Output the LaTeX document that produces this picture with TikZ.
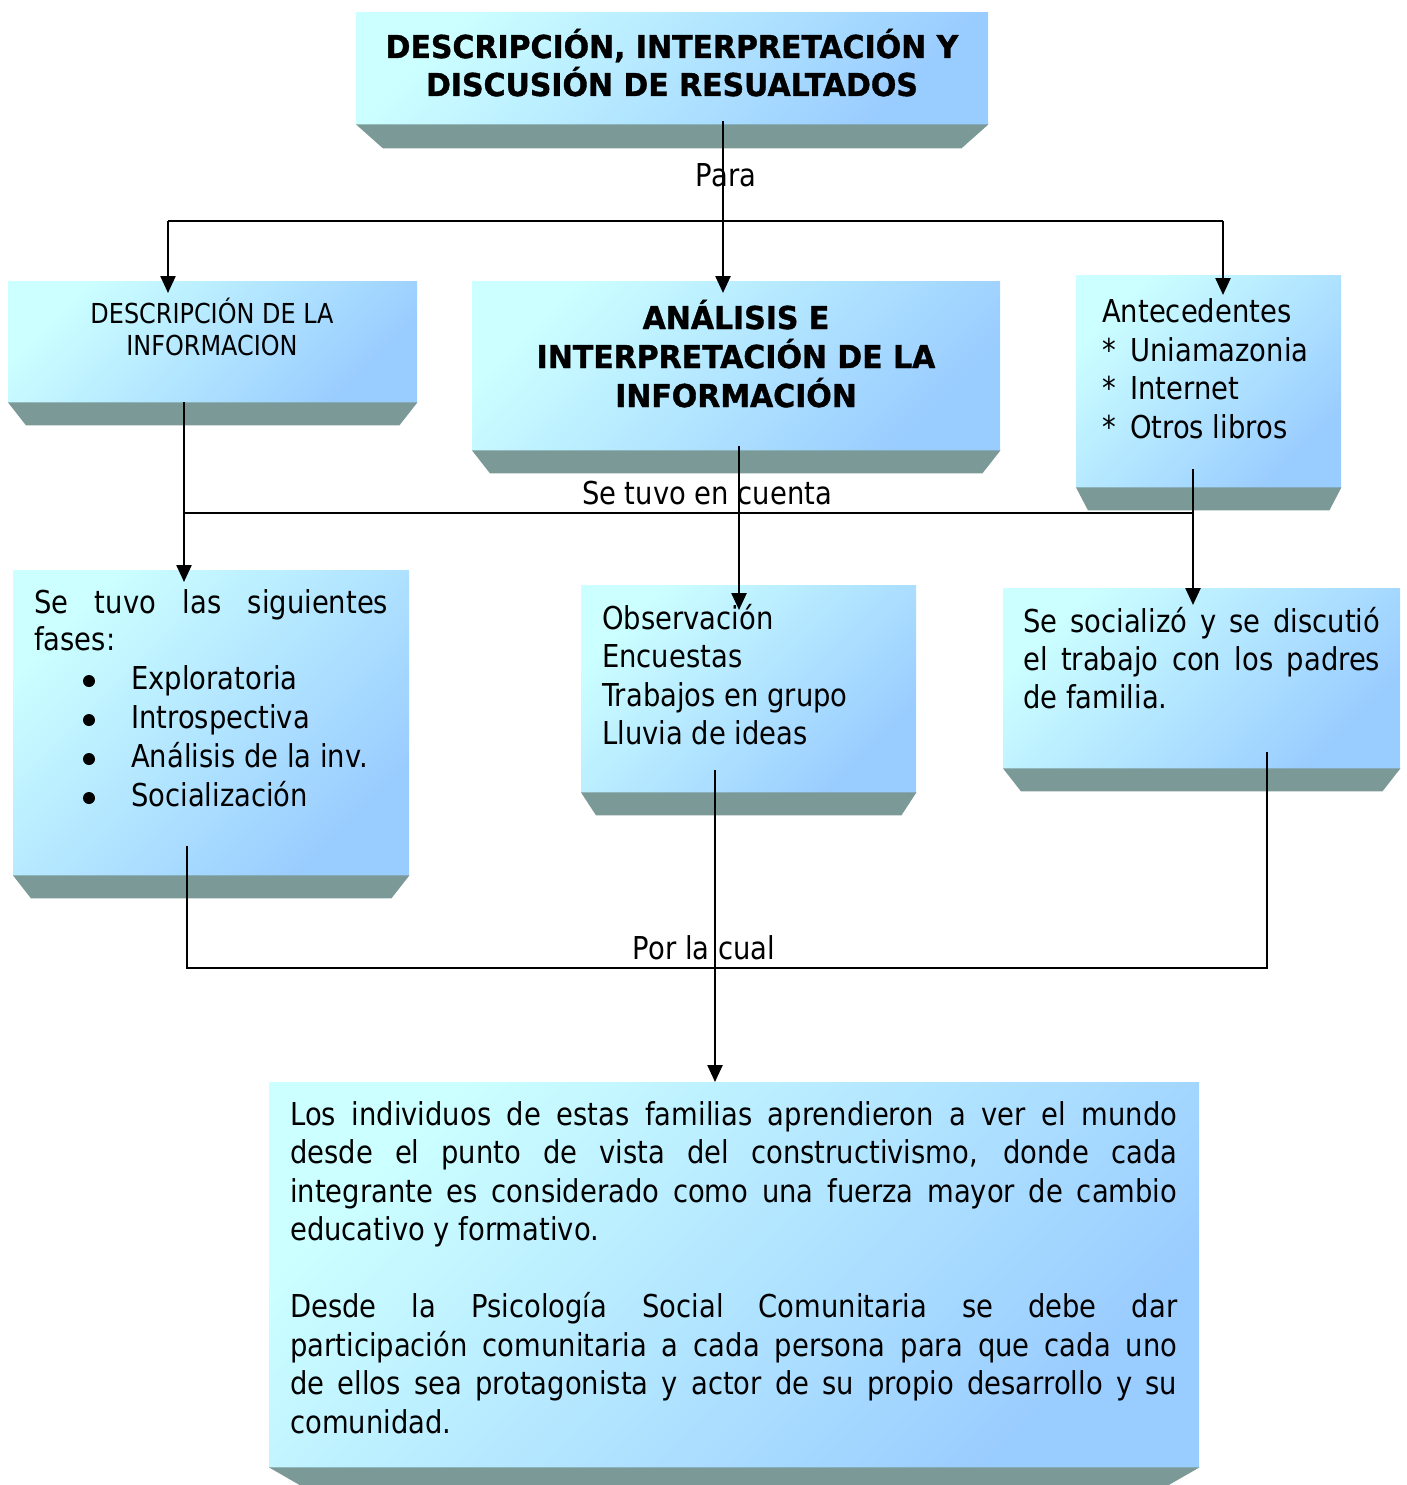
\documentclass[tikz,border=0pt]{standalone}
\usepackage{fontspec}
\setmainfont{DejaVu Sans}[FakeStretch=0.87]
\newfontfamily\boldfam{DejaVu Sans}[FakeStretch=0.95, FakeBold=1.2]
\usetikzlibrary{arrows.meta}
\definecolor{cTop}{RGB}{204,255,255}
\definecolor{cBot}{RGB}{153,204,255}
\definecolor{cShelf}{RGB}{122,153,151}
\newcommand\mainsz{\fontsize{31.5}{38.5}\selectfont}
\newcommand\smallsz{\fontsize{27.5}{32}\selectfont}
\newcommand\shelfof[3]{\fill[shelf] (#1.south west) -- (#1.south east) -- ([xshift=-#2pt,yshift=-#3pt]#1.south east) -- ([xshift=#2pt,yshift=-#3pt]#1.south west) -- cycle;}
\begin{document}
\begin{tikzpicture}[x=1pt,y=-1pt,
  face/.style={rectangle, inner sep=0pt, draw=none, top color=cTop, bottom color=cBot, shading angle=45, anchor=north west},
  shelf/.style={fill=cShelf, draw=none},
  conn/.style={line width=2.4pt, draw=black},
  arr/.style={conn, -{Triangle[length=17pt,width=15pt]}},
  txt/.style={inner sep=0pt, anchor=base west, font=\mainsz},
  ctr/.style={inner sep=0pt, anchor=base, font=\mainsz},
  ttl/.style={inner sep=0pt, anchor=base, font=\boldfam\bfseries\mainsz},
  sml/.style={inner sep=0pt, anchor=base, font=\smallsz},
  bul/.style={circle, fill=black, inner sep=0pt, minimum size=12pt}]
\useasboundingbox (0,0) rectangle (1407,1485);
\clip (0,0) rectangle (1407,1485);

% ---------- boxes ----------
\node[face, minimum width=632pt, minimum height=112pt] (top) at (356,12) {};
\shelfof{top}{27}{24}
\node[face, minimum width=409pt, minimum height=121pt] (b1) at (8,281) {};
\shelfof{b1}{18}{23}
\node[face, minimum width=528pt, minimum height=169pt] (b2) at (472,281) {};
\shelfof{b2}{18}{23}
\node[face, minimum width=265pt, minimum height=212pt] (b3) at (1076,275) {};
\shelfof{b3}{12}{23}
\node[face, minimum width=396pt, minimum height=305pt] (b4) at (13,570) {};
\shelfof{b4}{18}{23}
\node[face, minimum width=335pt, minimum height=207pt] (b5) at (581,585) {};
\shelfof{b5}{15}{23}
\node[face, minimum width=397pt, minimum height=180pt] (b6) at (1003,588) {};
\shelfof{b6}{18}{23}
\node[face, minimum width=930pt, minimum height=385pt] (b7) at (269,1082) {};
\shelfof{b7}{40}{23}

% ---------- texts ----------
\node[ttl] (t0a) at (672,58) {DESCRIPCIÓN, INTERPRETACIÓN Y};
\node[ttl] (t0b) at (672,96) {DISCUSIÓN DE RESUALTADOS};

\node[sml] (t1a) at (212,323) {DESCRIPCIÓN DE LA};
\node[sml] (t1b) at (212,355) {INFORMACION};

\node[ttl] (t2a) at (736,329) {ANÁLISIS E};
\node[ttl] (t2b) at (736,368) {INTERPRETACIÓN DE LA};
\node[ttl] (t2c) at (736,407) {INFORMACIÓN};

\node[txt] (t3a) at (1102,322) {Antecedentes};
\node[txt] (t3b) at (1102,361) {\makebox[28pt][l]{*}Uniamazonia};
\node[txt] (t3c) at (1102,399) {\makebox[28pt][l]{*}Internet};
\node[txt] (t3d) at (1102,438) {\makebox[28pt][l]{*}Otros libros};

\node[txt] (t4a) at (34,613) {\makebox[354pt][s]{Se tuvo las siguientes}};
\node[txt] (t4b) at (34,650) {fases:};
\node[bul] (u1) at (89,681) {};
\node[bul] (u2) at (89,720) {};
\node[bul] (u3) at (89,759) {};
\node[bul] (u4) at (89,798) {};
\node[txt] (t4c) at (131,689) {Exploratoria};
\node[txt] (t4d) at (131,728) {Introspectiva};
\node[txt] (t4e) at (131,767) {Análisis de la inv.};
\node[txt] (t4f) at (131,806) {Socialización};

\node[txt] (t5a) at (602,629) {Observación};
\node[txt] (t5b) at (602,667) {Encuestas};
\node[txt] (t5c) at (602,706) {Trabajos en grupo};
\node[txt] (t5d) at (602,744) {Lluvia de ideas};

\node[txt] (t6a) at (1023,632) {\makebox[357pt][s]{Se socializó y se discutió}};
\node[txt] (t6b) at (1023,670) {\makebox[357pt][s]{el trabajo con los padres}};
\node[txt] (t6c) at (1023,708) {de familia.};

\node[txt] (t7a) at (290,1125) {\makebox[887pt][s]{Los individuos de estas familias aprendieron a ver el mundo}};
\node[txt] (t7b) at (290,1163.5) {\makebox[887pt][s]{desde el punto de vista del constructivismo, donde cada}};
\node[txt] (t7c) at (290,1202) {\makebox[887pt][s]{integrante es considerado como una fuerza mayor de cambio}};
\node[txt] (t7d) at (290,1240.5) {educativo y formativo.};
\node[txt] (t7e) at (290,1317.5) {\makebox[887pt][s]{Desde la Psicología Social Comunitaria se debe dar}};
\node[txt] (t7f) at (290,1356) {\makebox[887pt][s]{participación comunitaria a cada persona para que cada uno}};
\node[txt] (t7g) at (290,1394.5) {\makebox[887pt][s]{de ellos sea protagonista y actor de su propio desarrollo y su}};
\node[txt] (t7h) at (290,1433) {comunidad.};

% ---------- labels ----------
\node[ctr] (l1) at (726,186) {Para};
\node[ctr] (l2) at (707,504) {Se tuvo en cuenta};
\node[ctr] (l3) at (704,959) {Por la cual};

% ---------- connectors ----------
\coordinate (c0) at (723,121);
\coordinate (c0e) at (723,293);
\draw[arr] (c0) -- (c0e);
\coordinate (c1l) at (168,221);
\coordinate (c1r) at (1223,221);
\coordinate (c1le) at (168,293);
\coordinate (c1re) at (1223,295);
\draw[conn] (c1l) -- (c1r);
\draw[arr] (c1l) -- (c1le);
\draw[arr] (c1r) -- (c1re);

\coordinate (d0) at (184,402);
\coordinate (d0e) at (184,582);
\coordinate (d1) at (184,513);
\coordinate (d1r) at (1193,513);
\draw[arr] (d0) -- (d0e);
\draw[conn] (d1) -- (d1r);

\coordinate (e0) at (739,446);
\coordinate (e0e) at (739,610);
\draw[arr] (e0) -- (e0e);

\coordinate (f0) at (1193,469);
\coordinate (f0e) at (1193,605);
\draw[arr] (f0) -- (f0e);

\coordinate (g0) at (187,846);
\coordinate (g1) at (187,968);
\coordinate (g2) at (1267,968);
\coordinate (g3) at (1267,752);
\draw[conn] (g0) -- (g1) -- (g2) -- (g3);

\coordinate (k0) at (715,770);
\coordinate (k0e) at (715,1082);
\draw[arr] (k0) -- (k0e);
\end{tikzpicture}
\end{document}
